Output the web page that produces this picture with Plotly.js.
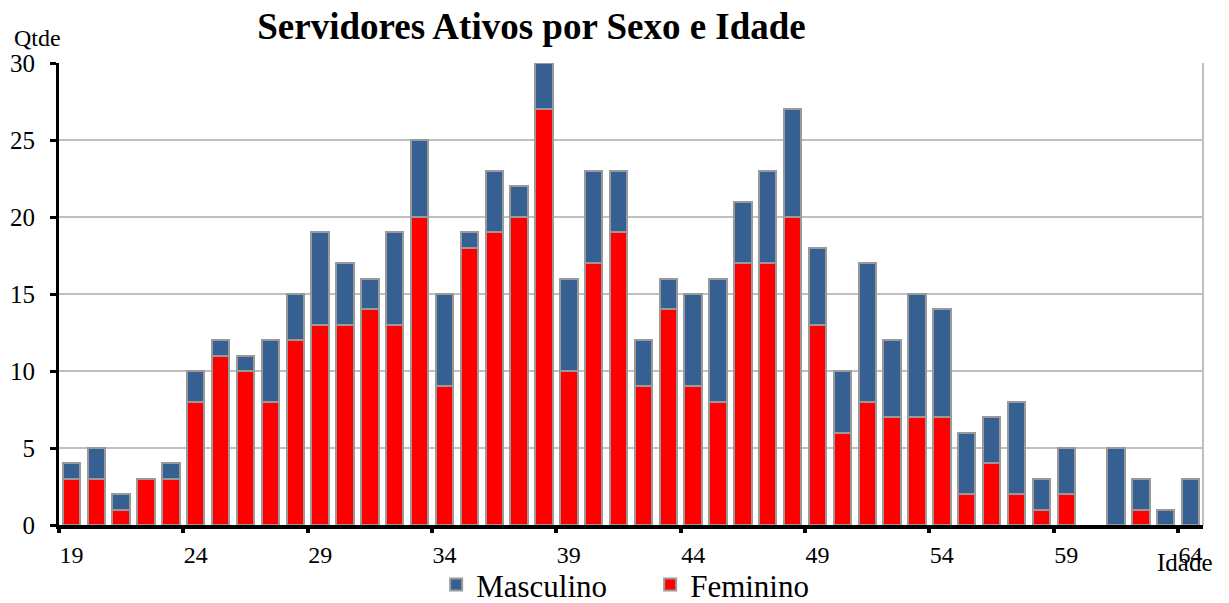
<!DOCTYPE html>
<html>
<head>
<meta charset="utf-8">
<script src="https://cdn.plot.ly/plotly-3.0.1.min.js"></script>
<style>html,body{margin:0;padding:0;background:#fff;}#chart{width:1229px;height:603px;}</style>
</head>
<body>
<div id="chart"></div>
<script>
const ages = [19,20,21,22,23,24,25,26,27,28,29,30,31,32,33,34,35,36,37,38,39,40,41,42,43,44,45,46,47,48,49,50,51,52,53,54,55,56,57,58,59,60,61,62,63,64];
const feminino = [3,3,1,3,3,8,11,10,8,12,13,13,14,13,20,9,18,19,20,27,10,17,19,9,14,9,8,17,17,20,13,6,8,7,7,7,2,4,2,1,2,0,0,1,0,0];
const masculino = [1,2,1,0,1,2,1,1,4,3,6,4,2,6,5,6,1,4,2,3,6,6,4,3,2,6,8,4,6,7,5,4,9,5,8,7,4,3,6,2,3,0,5,2,1,3];
const tickLabels = [19,24,29,34,39,44,49,54,59,64];
const yTicks = [0,5,10,15,20,25,30];

const serif = '"Liberation Serif", "Times New Roman", serif';
const edge = vals => ({color:'#9a9a9a', width: vals.map(v => v === 0 ? 0 : 2)});

const traces = [
  {type:'bar', name:'Feminino', x:ages, y:feminino, marker:{color:'#FF0000', line:edge(feminino)}, hoverinfo:'x+y+name'},
  {type:'bar', name:'Masculino', x:ages, y:masculino, marker:{color:'#376092', line:edge(masculino)}, hoverinfo:'x+y+name'},
  {type:'scatter', x:[ages[0]], y:[0], xaxis:'x2', mode:'none', showlegend:false, hoverinfo:'skip'}
];

const xRange = [ages[0]-0.5, ages[ages.length-1]+0.5];

const layout = {
  width:1229, height:603,
  margin:{l:59, r:26, t:63, b:78, autoexpand:false},
  paper_bgcolor:'#fff', plot_bgcolor:'#fff',
  barmode:'stack', bargap:0.3,
  font:{family:serif, color:'#000', size:24},
  showlegend:true,
  legend:{orientation:'h', xref:'container', yref:'container', x:0.529, xanchor:'center', y:0.03, yanchor:'middle',
          traceorder:'reversed', font:{size:31, family:serif}, itemwidth:30, bgcolor:'rgba(0,0,0,0)',
          entrywidth:169, entrywidthmode:'pixels'},
  xaxis:{range:xRange, tickmode:'array', tickvals:tickLabels, ticktext:tickLabels.map(String), automargin:false,
         ticks:'', showgrid:false, zeroline:false, showline:true, linecolor:'#000', linewidth:4,
         tickfont:{size:24, family:serif}, ticklabelstandoff:5, fixedrange:true},
  xaxis2:{overlaying:'x', range:xRange, tickmode:'array', tickvals:tickLabels.map(v=>v-0.5), automargin:false,
          showticklabels:false, ticks:'outside', ticklen:7, tickwidth:4, tickcolor:'#000',
          showgrid:false, zeroline:false, showline:false, side:'bottom', anchor:'y', fixedrange:true},
  yaxis:{range:[0,30], tickmode:'array', tickvals:yTicks, ticks:'outside', ticklen:6, tickwidth:3, automargin:false,
         tickcolor:'#000', showline:true, linecolor:'#000', linewidth:3,
         gridcolor:'#C0C0C0', gridwidth:2, zeroline:false, ticklabelstandoff:10,
         tickfont:{size:25, family:serif}, fixedrange:true},
  title:{text:'<b>Servidores Ativos por Sexo e Idade</b>', x:0.4325, xanchor:'center', y:0.957, yanchor:'middle',
         font:{size:37, family:serif, color:'#000'}},
  shapes:[{type:'line', xref:'paper', yref:'paper', x0:1, x1:1, y0:0, y1:1, line:{color:'#C0C0C0', width:2}}],
  annotations:[
    {text:'Qtde', xref:'paper', yref:'paper', x:-0.019, y:1.054, xanchor:'center', yanchor:'middle', showarrow:false, font:{size:24, family:serif}},
    {text:'Idade', xref:'paper', yref:'paper', x:0.984, y:-0.082, xanchor:'center', yanchor:'middle', showarrow:false, font:{size:25, family:serif}}
  ]
};

Plotly.newPlot('chart', traces, layout, {displayModeBar:false, staticPlot:true});
</script>
</body>
</html>
